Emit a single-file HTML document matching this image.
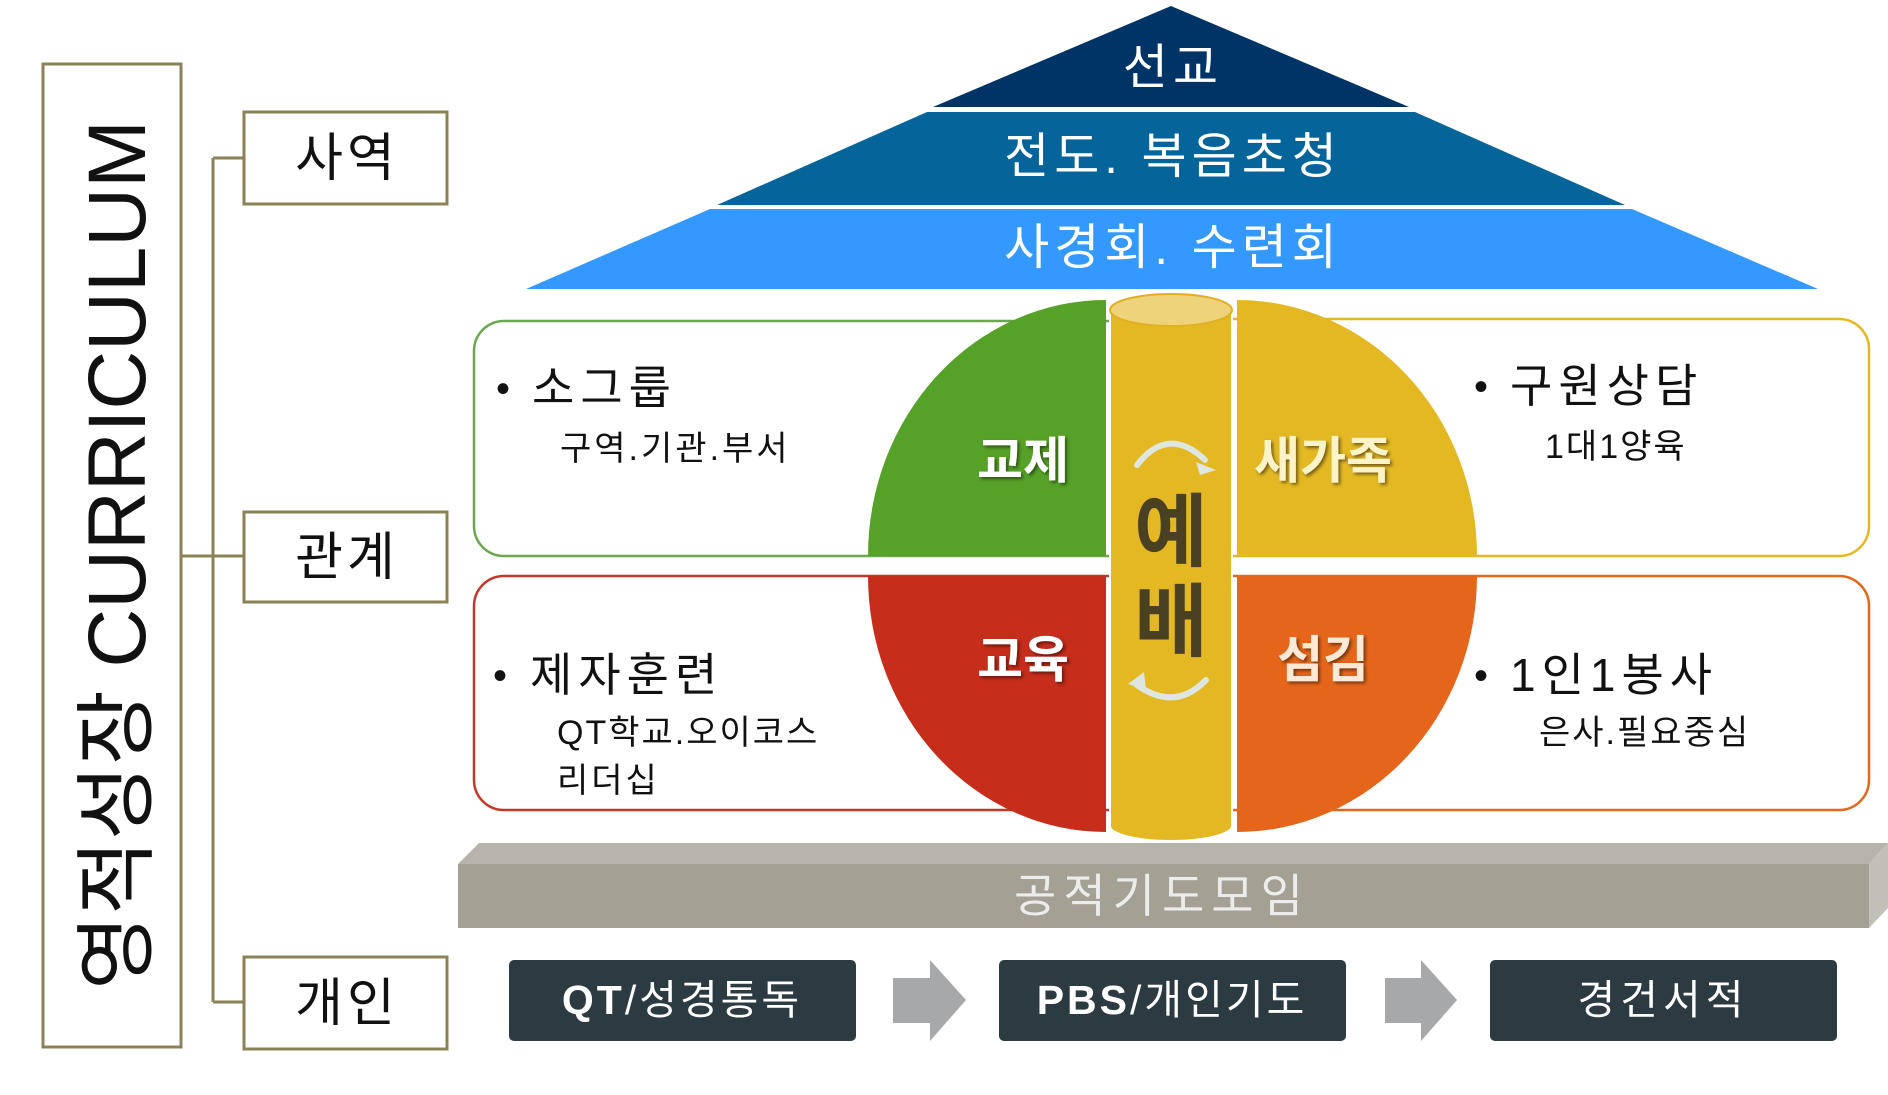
<!DOCTYPE html>
<html><head><meta charset="utf-8"><style>
html,body{margin:0;padding:0;background:#fff;}
svg{display:block;}
text{font-family:"Liberation Sans","Noto Sans CJK KR","NanumGothic",sans-serif;}
</style></head><body>
<svg width="1888" height="1095" viewBox="0 0 1888 1095" xmlns="http://www.w3.org/2000/svg">
<defs>
<filter id="sh" x="-20%" y="-20%" width="140%" height="140%"><feDropShadow dx="2" dy="2" stdDeviation="1.5" flood-color="#000" flood-opacity="0.5"/></filter>
</defs>
<rect x="43" y="64" width="138" height="983" fill="#fff" stroke="#8b8157" stroke-width="3"/>
<text transform="translate(145,555) rotate(-90)" font-size="82" text-anchor="middle" fill="#111" textLength="870" lengthAdjust="spacingAndGlyphs">영적성장 CURRICULUM</text>
<g stroke="#8b8157" stroke-width="3" fill="none">
<path d="M181 556 H213 M213 158 V1002 M213 158 H244 M213 556 H244 M213 1002 H244"/>
<rect x="244" y="112" width="203" height="92" fill="#fff"/>
<rect x="244" y="512" width="203" height="90" fill="#fff"/>
<rect x="244" y="957" width="203" height="92" fill="#fff"/>
</g>
<g font-size="52" fill="#111" text-anchor="middle" letter-spacing="4">
<text x="347" y="176">사역</text>
<text x="347" y="575">관계</text>
<text x="347" y="1021">개인</text>
</g>
<polygon points="1171,6 1409,107 933,107" fill="#003366"/>
<polygon points="927,112 1415,112 1625,205 717,205" fill="#05659a"/>
<polygon points="710,209 1632,209 1818,289 526,289" fill="#3399ff"/>
<g fill="#fff" text-anchor="middle" font-size="49" letter-spacing="5">
<text x="1173" y="84">선교</text>
<text x="1173" y="173">전도. 복음초청</text>
<text x="1173" y="264">사경회. 수련회</text>
</g>
<rect x="474" y="321" width="700" height="235" rx="30" fill="#fff" stroke="#6aa84f" stroke-width="2.5"/>
<rect x="474" y="576" width="700" height="234" rx="30" fill="#fff" stroke="#c0392b" stroke-width="2.5"/>
<rect x="1170" y="319" width="699" height="237" rx="30" fill="#fff" stroke="#e3b823" stroke-width="2.5"/>
<rect x="1170" y="576" width="699" height="234" rx="30" fill="#fff" stroke="#e2691c" stroke-width="2.5"/>
<path d="M1106 556 V300 A238 256 0 0 0 868 556 Z" fill="#56a127"/>
<path d="M1237 556 V300 A240 256 0 0 1 1477 556 Z" fill="#e3b823"/>
<path d="M1106 576 V832 A238 256 0 0 1 868 576 Z" fill="#c62d1b"/>
<path d="M1237 576 V832 A240 256 0 0 0 1477 576 Z" fill="#e5661a"/>
<path d="M1110 310 V826 A61 15 0 0 0 1232 826 V310 Z" fill="#e3b823" stroke="#fff" stroke-width="2"/>
<ellipse cx="1171" cy="310" rx="61" ry="16" fill="#efd37a" stroke="#e0b020" stroke-width="2"/>
<g fill="#fff" font-weight="bold" font-size="50" text-anchor="middle" filter="url(#sh)">
<text x="1023" y="478">교제</text>
<text x="1323" y="478" fill="#fdf3c8">새가족</text>
<text x="1023" y="677">교육</text>
<text x="1323" y="677" fill="#fde9d6">섬김</text>
</g>
<g fill="#4a4123" font-weight="bold" font-size="80" text-anchor="middle">
<text x="1171" y="560">예</text>
<text x="1171" y="650">배</text>
</g>
<g fill="none" stroke="#dde6e0" stroke-width="6" stroke-linecap="round">
<path d="M1137 465 Q1168 425 1205 460"/>
<path d="M1206 680 Q1175 712 1137 685"/>
</g>
<polygon points="1196,462 1216,470 1200,475" fill="#dde6e0"/>
<polygon points="1144,672 1128,684 1146,690" fill="#dde6e0"/>
<g fill="#111">
<text x="496" y="402" font-size="40">•</text>
<text x="532" y="404" font-size="46" letter-spacing="6">소그룹</text>
<text x="560" y="460" font-size="34" letter-spacing="3">구역.기관.부서</text>
<text x="493" y="689" font-size="40">•</text>
<text x="530" y="691" font-size="46" letter-spacing="6">제자훈련</text>
<text x="557" y="744" font-size="34" letter-spacing="2">QT학교.오이코스</text>
<text x="557" y="792" font-size="34" letter-spacing="3">리더십</text>
<text x="1474" y="400" font-size="40">•</text>
<text x="1510" y="402" font-size="46" letter-spacing="6">구원상담</text>
<text x="1545" y="458" font-size="34" letter-spacing="2">1대1양육</text>
<text x="1474" y="689" font-size="40">•</text>
<text x="1510" y="691" font-size="46" letter-spacing="6">1인1봉사</text>
<text x="1539" y="744" font-size="34" letter-spacing="2">은사.필요중심</text>
</g>
<polygon points="479,843 1888,843 1869,864 458,864" fill="#b7b5ab"/>
<polygon points="1869,864 1888,843 1888,908 1869,928" fill="#c2c0b6"/>
<rect x="458" y="864" width="1411" height="64" fill="#a4a194"/>
<text x="1162" y="912" font-size="46" fill="#ececec" text-anchor="middle" letter-spacing="7">공적기도모임</text>
<g fill="#2c3a42">
<rect x="509" y="960" width="347" height="81" rx="5"/>
<rect x="999" y="960" width="347" height="81" rx="5"/>
<rect x="1490" y="960" width="347" height="81" rx="5"/>
</g>
<g fill="#a6a8aa">
<polygon points="893,978 930,978 930,960 966,1000 930,1041 930,1023 893,1023"/>
<polygon points="1385,978 1421,978 1421,960 1457,1000 1421,1041 1421,1023 1385,1023"/>
</g>
<g fill="#fff" font-size="41" text-anchor="middle" letter-spacing="3">
<text x="682" y="1014"><tspan font-weight="bold">QT</tspan>/성경통독</text>
<text x="1172" y="1014"><tspan font-weight="bold">PBS</tspan>/개인기도</text>
<text x="1663" y="1014" letter-spacing="5">경건서적</text>
</g>
</svg>
</body></html>
